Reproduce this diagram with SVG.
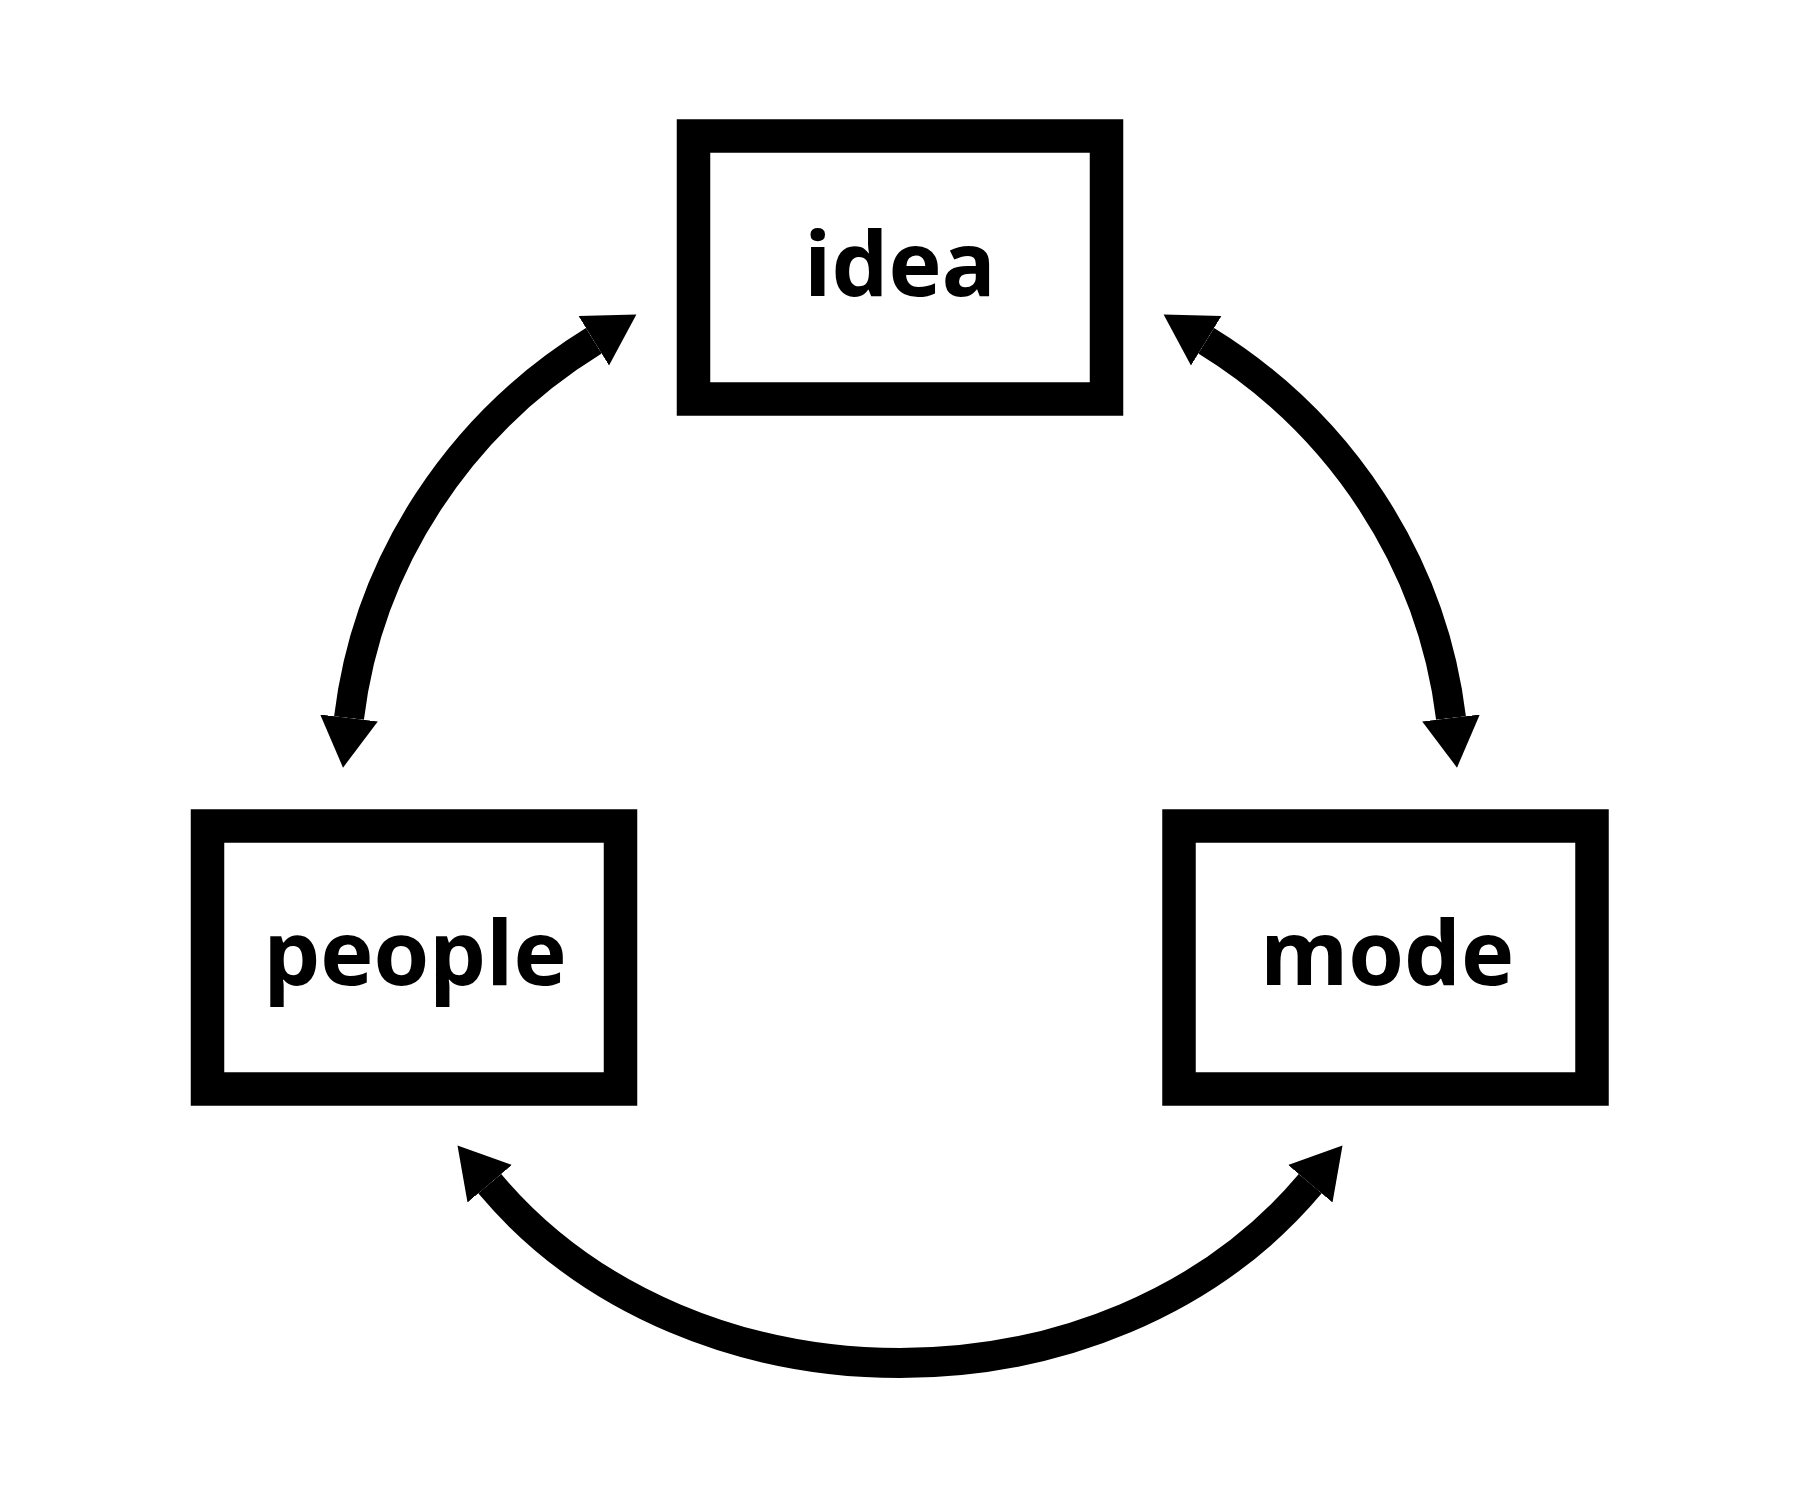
<svg xmlns="http://www.w3.org/2000/svg" width="1800" height="1500" viewBox="0 0 1800 1500">
<style>
.box{fill:#fff;stroke:#000;stroke-width:33.5}
.lbl{font-family:"Open Sans","Noto Sans","DejaVu Sans",sans-serif;font-weight:bold;font-size:90px;fill:#000;text-anchor:middle}
.con{fill:none;stroke:#000;stroke-width:30}
</style>
<defs>
<marker id="ah" markerUnits="userSpaceOnUse" markerWidth="60" markerHeight="70" refX="0" refY="35" orient="auto-start-reverse" viewBox="0 0 60 70">
<path d="M0,6 L50,35 L0,64 z" fill="#000"/>
</marker>
</defs>
<rect width="1800" height="1500" fill="#fff"/>
<g id="connectors">
<path class="con" d="M593.8,340.8 C459.8,423.3 367.9,561.6 349,718" marker-start="url(#ah)" marker-end="url(#ah)"/>
<path class="con" d="M1206.2,340.8 C1340.2,423.3 1432.1,561.6 1451,718" marker-start="url(#ah)" marker-end="url(#ah)"/>
<path class="con" d="M489.7,1183.7 C691,1422.8 1109,1422.8 1310.3,1183.7" marker-start="url(#ah)" marker-end="url(#ah)"/>
</g>
<g id="node-idea">
<rect class="box" x="693.5" y="136" width="413" height="263"/>
<text class="lbl" x="900" y="296">idea</text>
</g>
<g id="node-people">
<rect class="box" x="207.5" y="826" width="413" height="263"/>
<text class="lbl" x="415" y="985">people</text>
</g>
<g id="node-mode">
<rect class="box" x="1179" y="826" width="413" height="263"/>
<text class="lbl" x="1387" y="985">mode</text>
</g>
</svg>
